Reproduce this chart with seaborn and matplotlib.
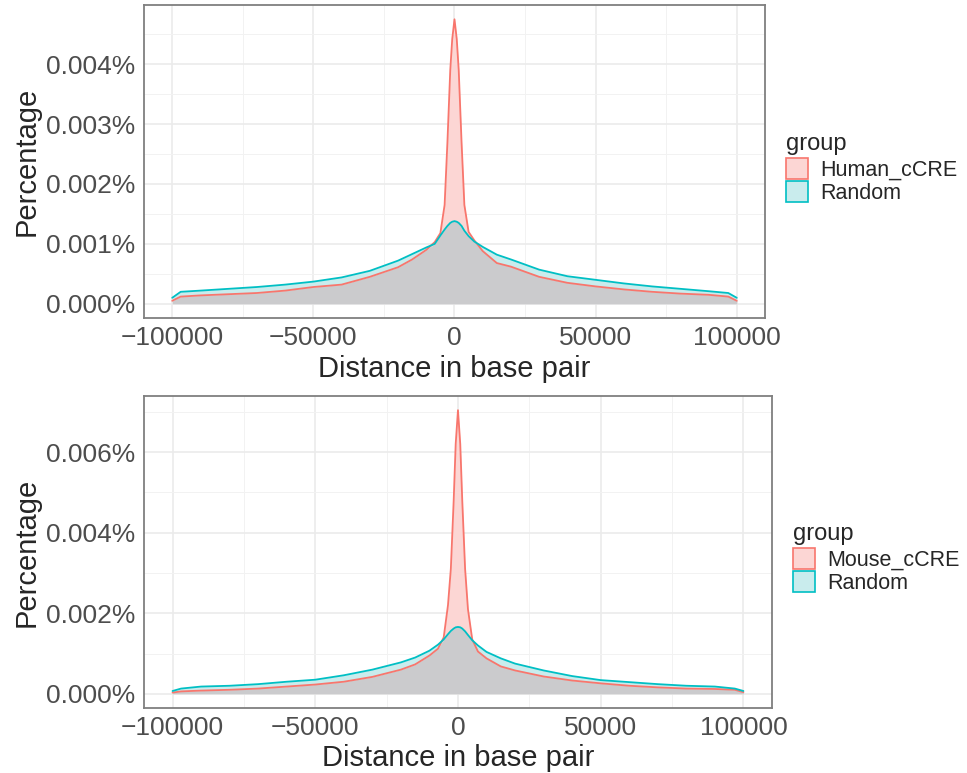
import numpy as np
import pandas as pd
import matplotlib
matplotlib.use("Agg")
import matplotlib.pyplot as plt
import seaborn as sns
from matplotlib.patches import Patch
from matplotlib.ticker import FuncFormatter, MultipleLocator

sns.set_style("white")
plt.rcParams['font.family'] = ['Liberation Sans', 'DejaVu Sans']

# distance grid (bp), shared by every series
distance = [-100000, -97000, -90000, -80000, -70000, -60000, -50000, -40000, -30000,
            -20000, -15000, -10000, -7000, -5000, -3500, -2500, -1500, -800, 0,
            800, 1500, 2500, 3500, 5000, 7000, 10000, 15000, 20000, 30000, 40000,
            50000, 60000, 70000, 80000, 90000, 97000, 100000]

# density in percent
human_ccre = [0.00005, 0.00012, 0.00014, 0.00016, 0.00018, 0.00022, 0.00028, 0.00032, 0.00045,
              0.00061, 0.00074, 0.00090, 0.00103, 0.00118, 0.00165, 0.00270, 0.00390, 0.00442, 0.00475,
              0.00442, 0.00390, 0.00270, 0.00165, 0.00120, 0.00106, 0.00088, 0.00068, 0.00062, 0.00045, 0.00035,
              0.00029, 0.00024, 0.00020, 0.00017, 0.00015, 0.00012, 0.00005]
random_h = [0.00010, 0.00020, 0.00022, 0.00025, 0.00028, 0.00032, 0.00037, 0.00044, 0.00055,
            0.00072, 0.00083, 0.00094, 0.00100, 0.00114, 0.00124, 0.00130, 0.00135, 0.00137, 0.00138,
            0.00137, 0.00135, 0.00130, 0.00122, 0.00113, 0.00104, 0.00095, 0.00082, 0.00074, 0.00057, 0.00046,
            0.00040, 0.00034, 0.00029, 0.00025, 0.00021, 0.00018, 0.00010]

mouse_ccre = [0.00003, 0.00006, 0.00008, 0.00010, 0.00013, 0.00018, 0.00023, 0.00030, 0.00042,
              0.00060, 0.00073, 0.00095, 0.00112, 0.00140, 0.00220, 0.00310, 0.00480, 0.00620, 0.00704,
              0.00620, 0.00480, 0.00310, 0.00210, 0.00135, 0.00105, 0.00088, 0.00068, 0.00058, 0.00043, 0.00033,
              0.00026, 0.00020, 0.00016, 0.00013, 0.00012, 0.00010, 0.00004]
random_m = [0.00007, 0.00013, 0.00018, 0.00020, 0.00024, 0.00030, 0.00035, 0.00046, 0.00060,
            0.00078, 0.00090, 0.00107, 0.00122, 0.00135, 0.00148, 0.00156, 0.00162, 0.00165, 0.00166,
            0.00165, 0.00162, 0.00155, 0.00146, 0.00133, 0.00120, 0.00104, 0.00088, 0.00075, 0.00058, 0.00044,
            0.00034, 0.00029, 0.00024, 0.00020, 0.00018, 0.00013, 0.00007]

RED, CYAN = "#F8766D", "#00BFC4"
RED_FILL, CYAN_FILL, GREY_FILL = "#FCD6D4", "#C9ECED", "#CBCBCD"


def panel(ax, name, cre, rnd, ystep):
    df = pd.DataFrame({"distance": distance * 2,
                       "pct": cre + rnd,
                       "group": [name] * len(distance) + ["Random"] * len(distance)})
    x = np.array(distance)
    a = np.array(cre)
    b = np.array(rnd)
    low = np.minimum(a, b)
    ax.fill_between(x, low, a, color=RED_FILL, lw=0)
    ax.fill_between(x, low, b, color=CYAN_FILL, lw=0)
    ax.fill_between(x, 0, low, color=GREY_FILL, lw=0)
    sns.lineplot(data=df, x="distance", y="pct", hue="group",
                 palette={name: RED, "Random": CYAN}, lw=1.3, ax=ax, legend=False)

    ymax = max(cre + rnd)
    ax.set_xlim(-110000, 110000)
    ax.set_ylim(-ymax * 0.05, ymax * 1.05)
    ax.set_xticks([-100000, -50000, 0, 50000, 100000])
    ax.xaxis.set_minor_locator(MultipleLocator(25000))
    ax.yaxis.set_major_locator(MultipleLocator(ystep))
    ax.yaxis.set_minor_locator(MultipleLocator(ystep / 2))
    ax.xaxis.set_major_formatter(FuncFormatter(lambda v, p: f"{v:.0f}".replace("-", "\u2212")))
    ax.yaxis.set_major_formatter(FuncFormatter(lambda v, p: f"{v:.3f}%"))
    ax.grid(True, which="major", color="#EBEBEB", lw=1.2)
    ax.grid(True, which="minor", color="#F2F2F2", lw=0.7)
    ax.set_axisbelow(True)
    for s in ax.spines.values():
        s.set_color("#7F7F7F")
        s.set_linewidth(1.3)
    ax.tick_params(axis="both", which="major", length=4, width=1, color="#333333",
                   labelsize=19, labelcolor="#4D4D4D", pad=2)
    ax.tick_params(which="minor", length=0)
    ax.set_xlabel("Distance in base pair", fontsize=21, labelpad=3)
    ax.set_ylabel("Percentage", fontsize=21, labelpad=4)

    handles = [Patch(facecolor=RED_FILL, edgecolor=RED, lw=1.2, label=name),
               Patch(facecolor=CYAN_FILL, edgecolor=CYAN, lw=1.2, label="Random")]
    leg = ax.legend(handles=handles, title="group", loc="center left",
                    bbox_to_anchor=(1.02, 0.478), frameon=False, fontsize=15.5,
                    title_fontsize=17, handlelength=1.0, handleheight=1.12,
                    labelspacing=0.02, handletextpad=0.6, borderaxespad=0)
    leg._legend_box.align = "left"
    leg._legend_box.sep = 2


fig = plt.figure(figsize=(9.67, 7.73), dpi=100)
ax1 = fig.add_axes([0.1489, 0.5886, 0.6422, 0.4049])
ax2 = fig.add_axes([0.1489, 0.0841, 0.6494, 0.4036])

panel(ax1, "Human_cCRE", human_ccre, random_h, 0.001)
panel(ax2, "Mouse_cCRE", mouse_ccre, random_m, 0.002)

fig.savefig("out.png", dpi=100)
